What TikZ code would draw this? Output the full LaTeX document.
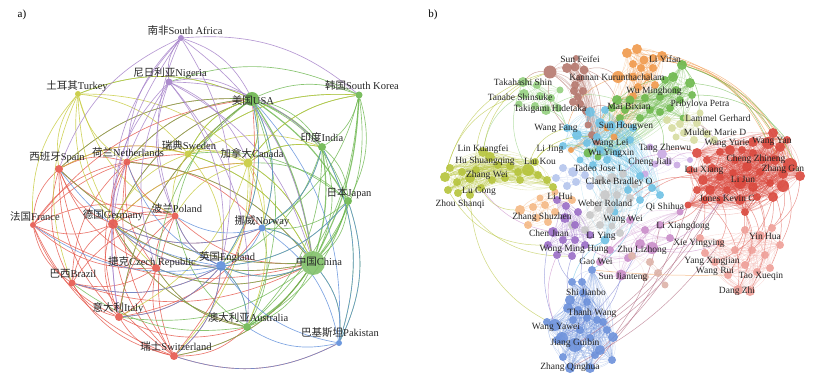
\documentclass[tikz,border=0pt]{standalone}
\usepackage{fontspec}
\setmainfont{Liberation Serif}
\newfontfamily\cjk{Noto Sans CJK SC}
\usetikzlibrary{calc}
\pgfdeclarelayer{edges}
\pgfsetlayers{edges,main}
% panel a colours
\definecolor{cRed}{HTML}{E5574B}
\definecolor{cGrn}{HTML}{6CB64E}
\definecolor{cYel}{HTML}{C6CA3C}
\definecolor{cPur}{HTML}{A37FC8}
\definecolor{cBlu}{HTML}{5D8DDA}
% panel b colours
\definecolor{bBr}{HTML}{B5786E}
\definecolor{bLg}{HTML}{93CF7E}
\definecolor{bOr}{HTML}{F0994B}
\definecolor{bGr}{HTML}{6DB84C}
\definecolor{bLy}{HTML}{D6DCA0}
\definecolor{bRd}{HTML}{D9473C}
\definecolor{bLp}{HTML}{C9A9E2}
\definecolor{bLb}{HTML}{6EC1E4}
\definecolor{bLv}{HTML}{B4C4EC}
\definecolor{bGy}{HTML}{C8C8C8}
\definecolor{bPe}{HTML}{F4B884}
\definecolor{bPu}{HTML}{9A6DC6}
\definecolor{bMg}{HTML}{C98CC9}
\definecolor{bTn}{HTML}{DDB3A8}
\definecolor{bSa}{HTML}{EE9E97}
\definecolor{bBl}{HTML}{6B90DA}
\definecolor{bYg}{HTML}{B5C33A}
\newcommand{\zh}[1]{{\cjk #1}}
\newdimen\edAx \newdimen\edAy \newdimen\edBx \newdimen\edBy \newdimen\edCx \newdimen\edCy
% curved edge bulging away from a centre
\newcommand{\cedge}[5]{%
  \pgfextractx{\edAx}{\pgfpointanchor{#1}{center}}%
  \pgfextracty{\edAy}{\pgfpointanchor{#1}{center}}%
  \pgfextractx{\edBx}{\pgfpointanchor{#2}{center}}%
  \pgfextracty{\edBy}{\pgfpointanchor{#2}{center}}%
  \pgfextractx{\edCx}{\pgfpointanchor{#4}{center}}%
  \pgfextracty{\edCy}{\pgfpointanchor{#4}{center}}%
  \pgfmathsetmacro\bsgn{((\edAx-\edCx)/100)*((\edBy-\edCy)/100)-((\edAy-\edCy)/100)*((\edBx-\edCx)/100)}%
  \ifdim\bsgn pt<0pt
    \draw[#3] (#1) to[bend left=#5] (#2);
  \else
    \draw[#3] (#1) to[bend right=#5] (#2);
  \fi}
% cluster of bubbles, fully linked
\newcommand{\cluster}[3]{%
  \foreach [count=\i] \x/\y/\r in {#3}{%
    \node[bub, fill=#2, minimum size={\r*2pt}] (#1\i) at (\x,\y) {};
    \xdef\ncl{\i}}%
  \begin{pgfonlayer}{edges}
  \foreach \i in {1,...,\ncl}{\foreach \j in {1,...,\ncl}{%
    \ifnum\i<\j\relax \draw[inE,#2] (#1\i) to[bend left=18] (#1\j);\fi}}
  \end{pgfonlayer}}
\begin{document}
\begin{tikzpicture}[x=1pt,y=-1pt,
  bub/.style={circle, inner sep=0pt, outer sep=0pt, draw=none, fill opacity=0.9},
  anode/.style={circle, inner sep=0pt, outer sep=0pt, draw=none, fill opacity=0.9},
  aE/.style={line width=0.65pt, draw opacity=0.8},
  inE/.style={line width=0.35pt, draw opacity=0.35},
  xE/.style={line width=0.5pt, draw opacity=0.65},
  lblA/.style={font=\fontsize{10.5}{12}\selectfont, text=black!85, inner sep=0pt},
  lblB/.style={font=\fontsize{9.5}{10.5}\selectfont, text=black!85, inner sep=0pt},
  ttl/.style={font=\fontsize{11}{12}\selectfont, inner sep=0pt}]
\useasboundingbox (0,0) rectangle (815,382);

% ================= panel a =================
\node[ttl] (ta) at (22,15) {a)};
\coordinate (ctrA) at (195,215);
\node[anode, fill=cPur, minimum size=6pt] (sa) at (181,38) {};
\node[anode, fill=cPur, minimum size=7pt] (ng) at (169,82) {};
\node[anode, fill=cYel, minimum size=6pt] (tr) at (78,94) {};
\node[anode, fill=cGrn, minimum size=14pt] (us) at (252,99) {};
\node[anode, fill=cGrn, minimum size=7pt] (kr) at (359,95) {};
\node[anode, fill=cGrn, minimum size=8pt] (ind) at (322,147) {};
\node[anode, fill=cRed, minimum size=8pt] (es) at (59,169) {};
\node[anode, fill=cRed, minimum size=7pt] (nl) at (127,162) {};
\node[anode, fill=cYel, minimum size=7pt] (se) at (188,154) {};
\node[anode, fill=cYel, minimum size=9pt] (ca) at (248,163) {};
\node[anode, fill=cGrn, minimum size=8pt] (jp) at (348,201) {};
\node[anode, fill=cRed, minimum size=6pt] (fr) at (33,225) {};
\node[anode, fill=cRed, minimum size=10pt] (de) at (113,224) {};
\node[anode, fill=cRed, minimum size=7pt] (pl) at (175,216) {};
\node[anode, fill=cBlu, minimum size=7pt] (no) at (262,228) {};
\node[anode, fill=cBlu, minimum size=10pt] (en) at (221,266) {};
\node[anode, fill=cGrn!85, minimum size=24pt] (cn) at (313,263) {};
\node[anode, fill=cRed, minimum size=8pt] (cz) at (156,268) {};
\node[anode, fill=cRed, minimum size=7pt] (br) at (72,283) {};
\node[anode, fill=cRed, minimum size=8pt] (it) at (119,317) {};
\node[anode, fill=cGrn, minimum size=8pt] (au) at (247,327) {};
\node[anode, fill=cBlu, minimum size=6pt] (pk) at (339,343) {};
\node[anode, fill=cRed, minimum size=8pt] (ch) at (174,356) {};

\begin{pgfonlayer}{edges}
\foreach \a/\b in {es/nl,es/fr,es/de,es/pl,es/cz,es/br,es/it,es/ch,nl/fr,nl/de,nl/pl,nl/cz,nl/br,nl/it,nl/ch,
  fr/de,fr/pl,fr/cz,fr/br,fr/it,fr/ch,de/pl,de/cz,de/br,de/it,de/ch,pl/cz,pl/br,pl/it,pl/ch,cz/br,cz/it,cz/ch,
  br/it,br/ch,it/ch,de/us,de/cn,de/en,nl/us,nl/cn,es/us,fr/us,it/us,ch/cn,ch/pk,it/au,ch/au,es/se,fr/se,
  de/ca,pl/cn,cz/cn,nl/no,es/cn,fr/cn,br/cn,it/en,de/no,ch/us,ch/en,pl/en,de/au,it/no,cz/au,br/en}
  {\cedge{\a}{\b}{aE,cRed}{ctrA}{22}}
\foreach \a/\b in {us/kr,us/ind,us/jp,us/au,kr/ind,kr/jp,kr/cn,kr/au,ind/jp,ind/cn,ind/au,jp/cn,jp/au,cn/au,
  us/ca,us/se,us/no,us/en,us/pl,us/de,cn/de,cn/en,cn/no,cn/ca,cn/pk,cn/it,cn/cz,au/pl,au/cz,kr/ng,ind/ca,
  jp/ca,jp/no,au/en,us/tr,kr/ca,ind/no,jp/en,cn/se,cn/nl,cn/es,cn/ch,au/de,au/br,us/es,us/nl,kr/se,ind/en,
  jp/pk,ind/pk,au/no,us/it,us/cz,kr/no,jp/se}
  {\cedge{\a}{\b}{aE,cGrn}{ctrA}{22}}
\foreach \a/\b in {us/cn,cn/ind,cn/jp,us/ind,cn/au,us/jp,kr/cn}
  {\cedge{\a}{\b}{aE,cGrn,line width=1.2pt}{ctrA}{12}}
\foreach \a/\b in {tr/se,tr/ca,se/ca,tr/es,tr/fr,tr/de,tr/us,tr/nl,tr/pl,se/de,se/nl,se/pl,se/es,se/us,ca/us,
  ca/de,ca/pl,ca/en,ca/cn,ca/ind,ca/it,ca/nl,ca/no,se/cn,tr/br,ca/kr,se/kr,tr/cz,ca/ch,se/ind,se/en,ca/au}
  {\cedge{\a}{\b}{aE,cYel}{ctrA}{22}}
\foreach \a/\b in {sa/ng,sa/us,sa/kr,sa/cn,sa/de,sa/es,sa/en,sa/it,ng/us,ng/cn,ng/de,ng/en,ng/pl,ng/cz,ng/it,
  ng/ca,sa/nl,ng/ind,ng/au,sa/pl}
  {\cedge{\a}{\b}{aE,cPur}{ctrA}{22}}
\foreach \a/\b in {no/en,en/pk,no/pk,en/cn,en/de,en/us,no/us,no/cn,pk/cn,pk/us,en/pl,en/cz,en/it,pk/ch,pk/au,
  en/au,no/de,no/pl,en/jp,no/ind,pk/jp,en/fr,en/br,en/nl,pk/ind,en/es,en/ch}
  {\cedge{\a}{\b}{aE,cBlu}{ctrA}{22}}
\end{pgfonlayer}

\node[lblA] (sa-l) at (185,31) {\zh{南非}South Africa};
\node[lblA] (ng-l) at (170,73) {\zh{尼日利亚}Nigeria};
\node[lblA] (tr-l) at (77,86) {\zh{土耳其}Turkey};
\node[lblA] (us-l) at (253,100) {\zh{美国}USA};
\node[lblA] (kr-l) at (362,86) {\zh{韩国}South Korea};
\node[lblA] (ind-l) at (322,137) {\zh{印度}India};
\node[lblA] (es-l) at (57,157) {\zh{西班牙}Spain};
\node[lblA] (nl-l) at (128,153) {\zh{荷兰}Netherlands};
\node[lblA] (se-l) at (189,146) {\zh{瑞典}Sweden};
\node[lblA] (ca-l) at (252,153) {\zh{加拿大}Canada};
\node[lblA] (jp-l) at (349,193) {\zh{日本}Japan};
\node[lblA] (fr-l) at (35,217) {\zh{法国}France};
\node[lblA] (de-l) at (113,215) {\zh{德国}Germany};
\node[lblA] (pl-l) at (177,209) {\zh{波兰}Poland};
\node[lblA] (no-l) at (262,221) {\zh{挪威}Norway};
\node[lblA] (en-l) at (227,257) {\zh{英国}England};
\node[lblA] (cn-l) at (319,262) {\zh{中国}China};
\node[lblA] (cz-l) at (152,262) {\zh{捷克}Czech Republic};
\node[lblA] (br-l) at (73,274) {\zh{巴西}Brazil};
\node[lblA] (it-l) at (118,308) {\zh{意大利}Italy};
\node[lblA] (au-l) at (248,318) {\zh{澳大利亚}Australia};
\node[lblA] (pk-l) at (340,333) {\zh{巴基斯坦}Pakistan};
\node[lblA] (ch-l) at (176,347) {\zh{瑞士}Switzerland};

% ================= panel b =================
\node[ttl] (tb) at (433,15) {b)};
\coordinate (ctrB) at (625,215);
\cluster{br}{bBr}{550/72/6.5,567/68/5,575/67/4.5,584/70/4.5,580/78/4,575/85/4,574/91/4,583/91/4,578/97/4,573/102/4,580/104/4,586/111/4,576/58/3,588/125/3.5,592/135/4,597/142/3.5}
\cluster{lg}{bLg}{523/82/5,537/85/4,524/94/5,540/96/4,551/98/4,535/106/4,546/110/5,558/108/4,519/104/3.5,560/90/3.5}
\cluster{or}{bOr}{627/53/5,637/49/5,644/60/4.5,653/58/4,662/56/5,633/64/4,641/68/4,653/68/4,618/77/6,633/77/4.5,647/77/4,638/87/4,633/96/4,655/85/4,607/128/3.5,614/137/3.5,571/150/3}
\cluster{gr}{bGr}{682/65/5,673/77/5,690/83/5,665/80/4,676/90/4,660/97/4,645/98/4,630/100/4.5,617/100/5,612/108/4,625/110/4,650/110/4,660/112/4,670/108/4,680/100/4,692/95/4,620/118/4,640/118/4,588/153/4.5,598/157/3.5,683/118/3.5}
\cluster{ly}{bLy}{667/120/4,672/128/4,680/124/4,687/118/4,697/123/4,684/133/4,707/134/4,714/140/4,694/140/4,700/113/3.5,676/137/3.5}
\cluster{rd}{bRd}{697/153/5,707/160/4,720/152/4,730/150/5,742/150/4,753/142/5,768/143/6,780/147/5,773/133/5,787/140/4,775/160/5,790/165/7,783/174/5,760/172/4,747/167/5,733/173/4,720/177/4,703/180/5,697/190/4,710/190/5,727/190/4,740/183/6,753/187/5,770/183/4,783/186/6,740/200/5,757/197/4,773/197/5,720/200/4,705/200/4,753/153/4,735/160/4,762/160/4,800/176/5,745/212/4,690/170/4,712/168/4,688/205/3.5}
\cluster{lp}{bLp}{650/147/3.5,662/154/5,668/162/4,655/164/3.5,677/165/3.5,645/174/3.5,690/160/3}
\cluster{lb}{bLb}{600/123/5,611/126/5,621/124/4,633/128/4,567/128/4,577/135/5,563/146/4,587/143/4,597/137/4,600/150/4,607/160/4,617/153/4,593/165/4,590/112/5,605/110/4,630/140/4,640/176/4,652/188/4,628/190/4,640/200/4,660/195/4,615/212/3.5,605/240/4.5,580/160/3.5}
\cluster{lv}{bLv}{563/168/4,573/172/5,585/175/4,576/182/4,556/178/4,567/186/4,590/186/4}
\cluster{gy}{bGy}{600/180/5,612/178/5,623/174/4,605/195/5,617/195/4,630/198/4,598/208/4,610/210/4,590/215/4,600/225/4,585/230/4,612/226/3.5,620/233/4,572/225/4,635/185/3.5}
\cluster{pe}{bPe}{520/210/5,533/207/4,545/205/4,555/212/4,537/218/4,548/222/4,528/225/4,540/198/3.5,555/192/3.5,572/200/4}
\cluster{pu}{bPu}{557/200/4,566/206/4,578/212/4,565/218/5,575/225/4,553/232/5,563/240/4,575/240/4,585/245/4,548/245/4,557/255/4,572/256/4,590/235/4}
\cluster{mg}{bMg}{640/244/5,652/248/6,621/275/5.5,600/262/4,610/250/4,628/258/4,660/225/4,670/238/4,645/230/4,630/220/4,680/212/3.5}
\cluster{tn}{bTn}{632/256/4,650/262/4,645/277/4,658/273/4,665/285/3.5}
\cluster{sa}{bSa}{760/236/5,745/230/4,772/228/4,735/250/4,752/250/4,765/255/4,745/265/4,757/272/4,770/268/4,738/290/5,750/291/5,728/275/4,715/262/4,700/238/4,705/253/4,720/243/4,780/245/4}
\cluster{bl}{bBl}{572/282/4,582/282/4,592/270/4,570/300/5,583/293/4,587/302/4,568/308/5,555/325/6,573/320/4,587/318/4,597/320/4,603/322/4,562/338/6,575/345/7,590/338/4,613/337/5,600/350/5,612/360/4,570/368/5,590/368/5,557/340/4,607/330/4,563/357/4,580/330/4,595/355/4,547/322/4,578/310/4}
\cluster{yg}{bYg}{445/177/5,450/168/4,457/182/4,462/172/4,470/178/5,476/170/4,448/190/4,458/193/4,470/195/4,481/188/4,483/152/5,490/157/5,498/165/4,510/166/4,518/172/4,528/170/6,535/162/4,538/175/4,547/180/4,553/187/4,520/180/4,505/178/4,492/180/4}

\begin{pgfonlayer}{edges}
\foreach \a/\b in {or2/rd7,or5/rd12,or4/rd34,or3/rd9,or1/rd8,or9/lb5,or13/lb1,or5/rd13}
  {\cedge{\a}{\b}{xE,bOr}{ctrB}{28}}
\foreach \a/\b in {gr1/rd7,gr3/rd9,gr1/ly5,gr2/lb1,gr9/lb2,gr19/lb7,gr1/rd34,gr12/lp2,gr16/rd10}
  {\cedge{\a}{\b}{xE,bGr}{ctrB}{25}}
\foreach \a/\b in {br1/lb5,br3/gr9,br13/lb1,br1/lg1,br4/or9,br16/lb9,br12/gr10}
  {\cedge{\a}{\b}{xE,bBr}{ctrB}{25}}
\foreach \a/\b in {lg1/lb5,lg7/lb5,lg3/yg11,lg1/yg16,lg7/gr9}
  {\cedge{\a}{\b}{xE,bLg}{ctrB}{25}}
\foreach \a/\b in {yg11/br1,yg6/lg1,yg1/lg3,yg16/lb5,yg16/lb9,yg20/pu1,yg7/pu10,yg8/pu12,yg1/br1,yg10/pe1,yg19/lv5,yg17/lb7,yg9/bl8}
  {\cedge{\a}{\b}{xE,bYg}{ctrB}{30}}
\foreach \a/\b in {lb9/gy1,lb13/gy4,lb23/bl3,lb23/pu9,lb14/br14,lb20/bl3,lb22/mg10,lb23/bl1}
  {\cedge{\a}{\b}{xE,bLb}{ctrB}{20}}
\foreach \a/\b in {rd1/lp2,rd17/lb20,rd18/gy6,rd19/mg11,rd20/mg7,rd29/sa16,rd21/sa1,rd26/sa4,rd27/sa1,rd28/sa5,
  rd30/sa10,rd23/sa11,rd22/sa12,rd24/sa9,rd25/sa3,rd36/sa14,rd13/sa17,rd34/sa3,rd35/sa7,rd26/sa10,rd28/sa13}
  {\cedge{\a}{\b}{xE,bRd!70!bSa}{ctrB}{25}}
\foreach \a/\b in {bl14/rd29,bl17/rd30,bl19/sa16,bl20/rd38,bl22/rd21,bl16/mg7,bl12/rd30}
  {\cedge{\a}{\b}{xE,bRd!60!bBl}{ctrB}{12}}
\foreach \a/\b in {bl13/mg1,bl11/mg3,bl6/pu9,bl4/pu12,bl1/pu11,bl8/pu10}
  {\cedge{\a}{\b}{xE,bBl!60!bPu}{ctrB}{15}}
\foreach \a/\b in {mg1/sa16,mg2/rd21,mg3/bl3,mg6/pu9,mg7/rd19,mg2/sa14,pu6/yg10,pu11/bl8,lp2/gy3,lp3/rd1,ly7/rd1,ly5/rd3}
  {\cedge{\a}{\b}{xE,bMg}{ctrB}{20}}
\draw[xE,bOr] (bl3) to[bend right=3] (sa12);
\end{pgfonlayer}

\foreach [count=\k] \x/\y/\t in {580/59/Sun Feifei,617/77/Kannan Kurunthachalam,665/59/Li Yifan,
  523/82/Takahashi Shin,520/97/Tanabe Shinsuke,654/91/Wu Minghong,550/109/Takigami Hidetaka,
  629/106/Mai Bixian,700/104/Pribylova Petra,718/118/Lammel Gerhard,556/128/Wang Fang,626/126/Sun Hongwen,
  715/132/Mulder Marie D,727/143/Wang Yurie,772/141/Wang Yan,483/149/Lin Kuangfei,550/149/Li Jing,
  610/143/Wang Lei,665/148/Tang Zhenwu,485/161/Hu Shuangqing,540/161/Liu Kou,611/153/Wu Yingxin,
  756/159/Cheng Zhineng,650/162/Cheng Jiali,783/169/Zhang Gan,704/170/Liu Xiang,487/175/Zhang Wei,
  600/168/Tadeo Jose L.,743/179/Li Jun,619/182/Clarke Bradley O,479/191/Lu Cong,560/196/Li Hui,
  727/198/Jones Kevin C,460/204/Zhou Shanqi,605/203/Weber Roland,665/207/Qi Shihua,542/217/Zhang Shuzhen,
  623/219/Wang Wei,683/226/Li Xiangdong,549/233/Chen Juan,601/236/Li Ying,765/236/Yin Hua,
  699/243/Xie Yingying,574/249/Wong Ming Hung,642/250/Zhu Lizhong,712/261/Yang Xingjian,596/261/Gao Wei,
  715/271/Wang Rui,761/276/Tao Xueqin,623/277/Sun Jianteng,737/291/Dang Zhi,586/292/Shi Jianbo,
  592/313/Thanh Wang,556/327/Wang Yawei,575/343/Jiang Guibin,570/367/Zhang Qinghua}
  {\node[lblB] (bl-\k) at (\x,\y) {\t};}
\end{tikzpicture}
\end{document}
